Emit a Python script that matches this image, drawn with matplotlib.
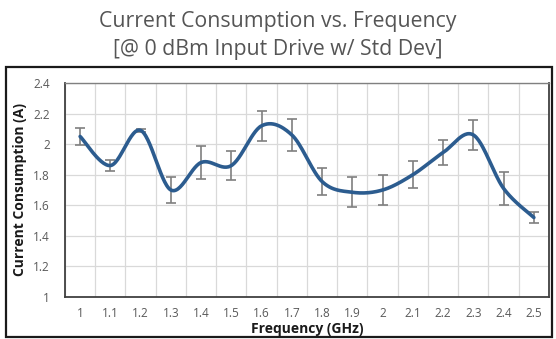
import numpy as np
import matplotlib
matplotlib.use("Agg")
import matplotlib.pyplot as plt
from matplotlib.patches import Rectangle

freq_labels = ["1", "1.1", "1.2", "1.3", "1.4", "1.5", "1.6", "1.7", "1.8", "1.9",
               "2", "2.1", "2.2", "2.3", "2.4", "2.5"]
current = [2.05, 1.86, 2.09, 1.70, 1.88, 1.86, 2.12, 2.06, 1.755, 1.685,
           1.70, 1.80, 1.945, 2.06, 1.71, 1.52]
std_dev = [0.057, 0.038, 0.012, 0.085, 0.106, 0.097, 0.10, 0.105, 0.088, 0.098,
           0.095, 0.087, 0.082, 0.096, 0.106, 0.033]
y_ticks = [1, 1.2, 1.4, 1.6, 1.8, 2, 2.2, 2.4]

fig = plt.figure(figsize=(5.56, 3.39), dpi=100)
fig.patch.set_facecolor("white")

# outer chart border
fig.patches.append(Rectangle((0.0108, 0.006), 0.982, 0.797, transform=fig.transFigure,
                             fill=False, edgecolor="#1a1a1a", linewidth=1.6))

fig.text(0.5, 0.937, "Current Consumption vs. Frequency", ha="center", va="center",
         fontsize=15.3, family="Open Sans", color="#555555")
fig.text(0.5, 0.853, "[@ 0 dBm Input Drive w/ Std Dev]", ha="center", va="center",
         fontsize=15.3, family="Open Sans", color="#555555")

ax = fig.add_axes([0.1169, 0.1239, 0.8705, 0.6313])
x = np.arange(len(current))
y = np.array(current)

# Excel-like smooth line (Catmull-Rom cubic Bezier through the data points)
P = np.column_stack([x, y]).astype(float)
Pext = np.vstack([P[0], P, P[-1]])
xs, ys = [], []
t = np.linspace(0, 1, 30)
for i in range(len(P) - 1):
    p0, p1, p2, p3 = Pext[i], Pext[i + 1], Pext[i + 2], Pext[i + 3]
    c1 = p1 + (p2 - p0) / 6.0
    c2 = p2 - (p3 - p1) / 6.0
    b = ((1 - t) ** 3)[:, None] * p1 + (3 * (1 - t) ** 2 * t)[:, None] * c1 \
        + (3 * (1 - t) * t ** 2)[:, None] * c2 + (t ** 3)[:, None] * p2
    xs.extend(b[:, 0]); ys.extend(b[:, 1])

ax.errorbar(x, y, yerr=std_dev, fmt="none", ecolor="#7f7f7f", elinewidth=1.2,
            capsize=3.5, capthick=1.2, zorder=3)
ax.plot(xs, ys, color="#2c5c8f", linewidth=2.6, solid_capstyle="round", zorder=4)

ax.set_xlim(-0.5, len(current) - 0.5)
ax.set_ylim(1, 2.4)
ax.set_yticks(y_ticks)
ax.set_yticklabels([f"{v:g}" for v in y_ticks])
ax.set_xticks(x)
ax.set_xticklabels(freq_labels)
ax.set_xticks(np.arange(-0.5, len(current), 1), minor=True)
ax.grid(True, which="minor", axis="x", color="#d9d9d9", linewidth=0.9)
ax.grid(True, which="major", axis="y", color="#d9d9d9", linewidth=0.9)
ax.set_axisbelow(True)
ax.tick_params(axis="both", which="both", length=0, labelsize=8.5, colors="#595959")
ax.tick_params(axis="x", pad=7)
ax.tick_params(axis="y", pad=11)
for lab in ax.get_xticklabels() + ax.get_yticklabels():
    lab.set_family("Open Sans")

for s in ["left", "bottom", "right"]:
    ax.spines[s].set_color("#404040")
    ax.spines[s].set_linewidth(1.3)
ax.spines["top"].set_color("#808080")
ax.spines["top"].set_linewidth(1.0)

ax.set_xlabel("Frequency (GHz)", fontsize=10, fontweight="bold", family="Open Sans",
              color="#1a1a1a", labelpad=2)
ax.set_ylabel("Current Consumption (A)", fontsize=10, fontweight="bold", family="Open Sans",
              color="#1a1a1a", labelpad=4)

fig.savefig("out.png", dpi=100)
